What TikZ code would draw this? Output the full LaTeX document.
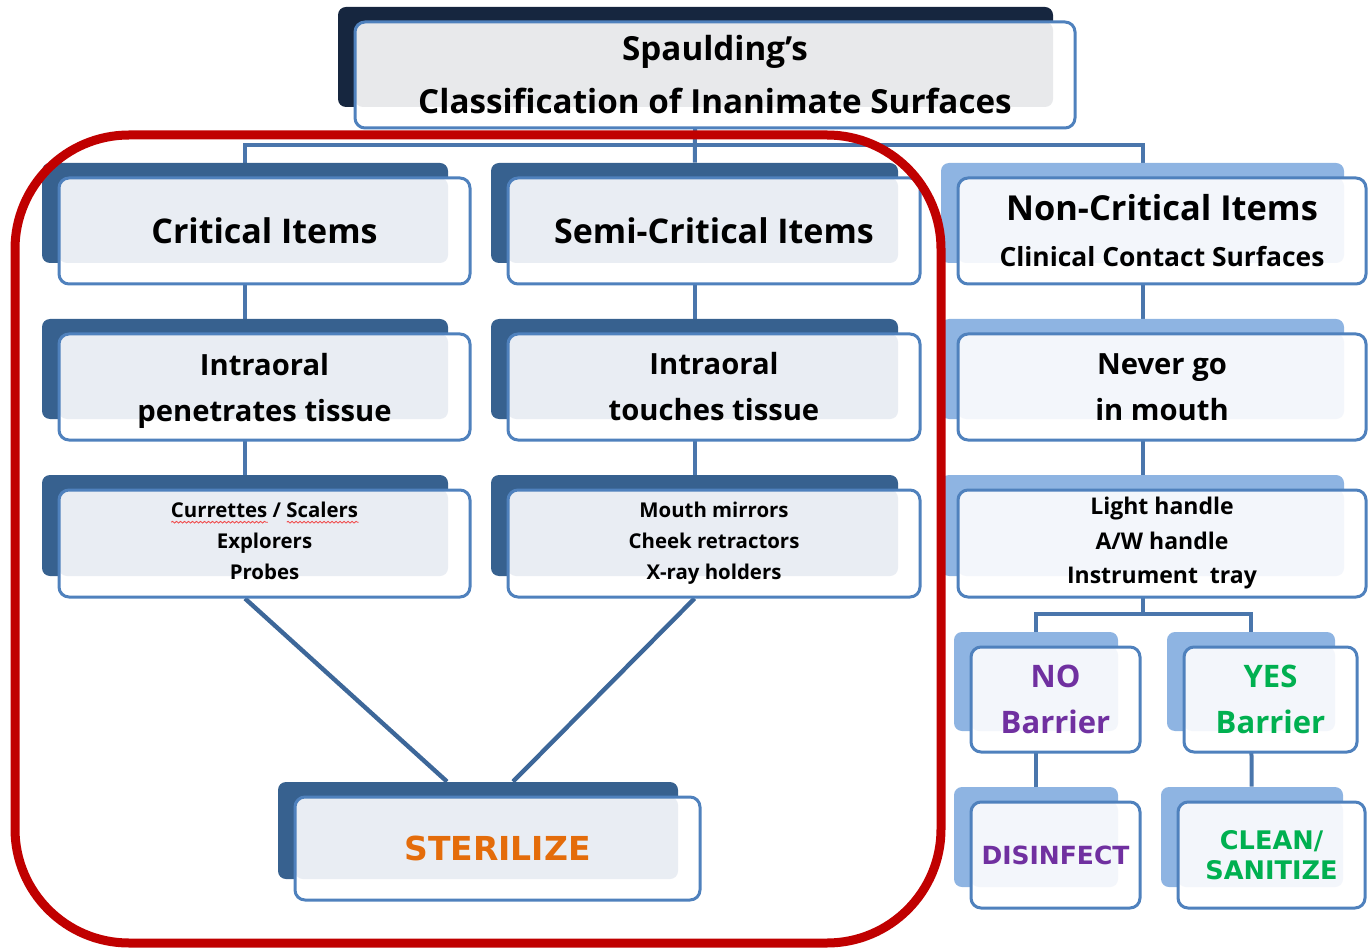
\documentclass[tikz,border=0pt]{standalone}
\usepackage{fontspec}
\setmainfont{Open Sans}
\newfontfamily\verdfont{DejaVu Sans}
\usetikzlibrary{calc,decorations.pathmorphing}

\definecolor{navy}{HTML}{16263F}
\definecolor{deepblue}{HTML}{37618F}
\definecolor{paleblue}{HTML}{8EB4E2}
\definecolor{rimblue}{HTML}{4F81BD}
\definecolor{tintgray}{HTML}{E8E9EB}
\definecolor{tintblue}{HTML}{E9EDF3}
\definecolor{tintpale}{HTML}{F3F6FB}
\definecolor{linkblue}{HTML}{4A76AC}
\definecolor{diagblue}{HTML}{3D6799}
\definecolor{alarm}{HTML}{C00000}
\definecolor{plum}{HTML}{7030A0}
\definecolor{leaf}{HTML}{00B050}
\definecolor{amber}{HTML}{E46C0A}
\definecolor{spellred}{HTML}{F04848}

\pgfdeclarelayer{links}
\pgfdeclarelayer{backing}
\pgfsetlayers{links,backing,main}

\newcommand\tsize[2]{\fontsize{#1}{#2}\selectfont\bfseries}
% line set without its descender depth
\newcommand\nodepth[1]{\raisebox{0pt}[\height][0pt]{#1}}
% word with a wavy red underline
\newsavebox\flagbox
\newcommand\flagged[1]{\leavevmode\sbox\flagbox{#1}%
  \rlap{\raisebox{-2.2pt}[0pt][0pt]{\tikz[x=1pt,y=1pt,baseline=0pt]
    \draw[path picture={}, sharp corners, draw=spellred, line width=0.4pt,
          decorate, decoration={snake, amplitude=0.45pt, segment length=2pt}]
      (0,0) -- (\the\wd\flagbox,0);}}\usebox\flagbox}

% front card (named #1) with its shadow card (named #1B) behind it
\newcommand\tierbox[9]{%
  \node[frontbox, tint=#3, #8,
        minimum width={(#6-#4)*0.5pt}, minimum height={(#7-#5)*0.5pt}]
        (#1) at ({(#4+#6)/2},{(#5+#7)/2}) {#9};
  \begin{pgfonlayer}{backing}
    \node[backbox, fill=#2,
          minimum width={(#6-#4-5)*0.5pt}, minimum height={(#7-#5-6)*0.5pt}]
          (#1B) at ({(#4+#6)/2-19.5},{(#5+#7)/2-18}) {};
  \end{pgfonlayer}}

\begin{document}
\begin{tikzpicture}[x=0.5pt,y=-0.5pt,
  frontbox/.style={draw=rimblue, line width=1.5pt, fill=white, rounded corners=5pt,
                   inner sep=0pt, align=center, text=black},
  tint/.style={path picture={\fill[#1, rounded corners=4pt]
                 (path picture bounding box.north west) rectangle
                 ([xshift=-11pt,yshift=10.5pt]path picture bounding box.south east);}},
  backbox/.style={rounded corners=4pt, inner sep=0pt, draw=none},
  link/.style={draw=linkblue, line width=2pt},
  diag/.style={draw=diagblue, line width=2.2pt},
  ring/.style={draw=alarm, line width=4.5pt, rounded corners=57pt}]
\useasboundingbox (0,0) rectangle (1368,951);

% title
\tierbox{title}{navy}{tintgray}{355}{22}{1075}{128}{font=\tsize{16.6}{26.5}}
  {Spaulding’s\\Classification of Inanimate Surfaces}

% first tier
\tierbox{crit}{deepblue}{tintblue}{59}{178}{470}{284}{font=\tsize{17}{20}}{Critical Items}
\tierbox{semi}{deepblue}{tintblue}{508}{178}{920}{284}{font=\tsize{17}{20}}{Semi-Critical Items}
\tierbox{non}{paleblue}{tintpale}{958}{178}{1366}{284}{font=\tsize{17.2}{23}}
  {Non-Critical Items\\\fontsize{13.2}{23}\selectfont Clinical Contact Surfaces}

% second tier
\tierbox{crit2}{deepblue}{tintblue}{59}{334}{470}{440}{font=\tsize{14.6}{23}}
  {Intraoral\\\nodepth{penetrates tissue}}
\tierbox{semi2}{deepblue}{tintblue}{508}{334}{920}{440}{font=\tsize{14.6}{23}}{Intraoral\\touches tissue}
\tierbox{non2}{paleblue}{tintpale}{958}{334}{1366}{440}{font=\tsize{14.6}{23}}{Never go\\in mouth}

% third tier
\tierbox{crit3}{deepblue}{tintblue}{59}{490}{470}{597}{font=\tsize{10.2}{15.5}}
  {\flagged{Currettes} / \flagged{Scalers}\\Explorers\\Probes\vphantom{y}}
\tierbox{semi3}{deepblue}{tintblue}{508}{490}{920}{597}{font=\tsize{10.2}{15.5}}
  {Mouth mirrors\\Cheek retractors\\X-ray holders}
\tierbox{non3}{paleblue}{tintpale}{958}{490}{1366}{597}{font=\tsize{11.5}{17.25}}
  {Light handle\\A/W handle\\Instrument\ \ tray}

% barrier split
\tierbox{no}{paleblue}{tintpale}{971}{647}{1140}{752}{font=\tsize{15.5}{23}, text=plum}{NO\\Barrier}
\tierbox{yes}{paleblue}{tintpale}{1184}{647}{1357}{752}{font=\tsize{15.5}{23}, text=leaf}{YES\\Barrier}

% outcomes
\tierbox{dis}{paleblue}{tintpale}{971}{802}{1140}{908}{font=\verdfont\tsize{12.5}{15}, text=plum}{DISINFECT}
\tierbox{clean}{paleblue}{tintpale}{1178}{802}{1365}{908}{font=\verdfont\tsize{12.8}{15}, text=leaf}{CLEAN/\\SANITIZE}
\tierbox{ster}{deepblue}{tintblue}{295}{797}{700}{900}{font=\verdfont\tsize{16.5}{20}, text=amber}{STERILIZE}

% connectors
\begin{pgfonlayer}{links}
  \coordinate (hub) at (695,145);
  \coordinate (split) at (1142.5,614);
  \draw[link] (critB) |- (hub) -| (nonB);
  \draw[link] (titleB) -- (semiB);
  \draw[link] (critB) -- (crit2B) -- (crit3B);
  \draw[link] (semiB) -- (semi2B) -- (semi3B);
  \draw[link] (nonB) -- (non2B) -- (non3B);
  \draw[link] (non3B) -- (non3B |- split);
  \draw[link] (noB) |- (split) -| (yesB);
  \draw[link] (noB) -- (disB);
  \draw[link] (yesB) -- (cleanB);
  \draw[diag] (crit3B |- crit3.south) -- ([xshift=-15.5pt]sterB.north);
  \draw[diag] (semi3B |- semi3.south) -- ([xshift=17.5pt]sterB.north);
\end{pgfonlayer}

% sterilisation group outline
\draw[ring] (15,135) rectangle (941,943);
\end{tikzpicture}
\end{document}
